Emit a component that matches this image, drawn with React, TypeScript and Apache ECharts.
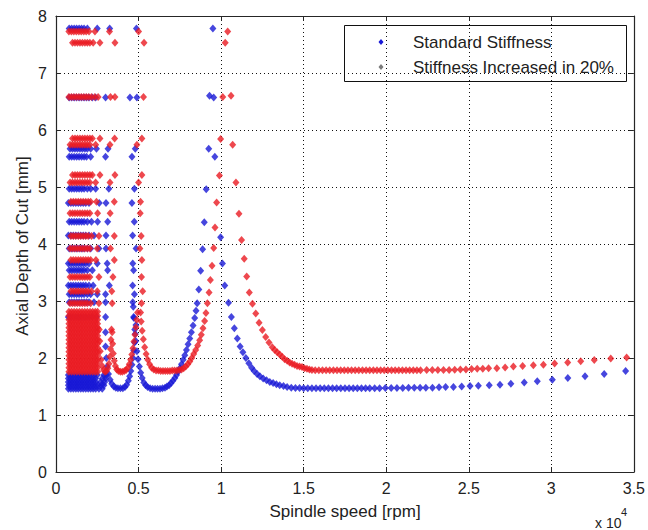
import React, { useEffect, useRef } from "react";
import * as echarts from "echarts";

const xTickValues = [0, 0.5, 1, 1.5, 2, 2.5, 3, 3.5];
const yTickValues = [0, 1, 2, 3, 4, 5, 6, 7, 8];
const seriesNames = ["Standard Stiffness", "Stiffness Increased in 20%"];
const xAxisTitle = "Spindle speed [rpm]";
const yAxisTitle = "Axial Depth of Cut [mm]";

type Row = [number, number[]];
type Pt = [number, number];

// ---- Standard stiffness (blue), x in 10^4 rpm, y in mm ----
const blueRows: Row[] = [
  [7.78, [0.08, 0.095, 0.11, 0.125, 0.14, 0.155, 0.17, 0.19, 0.25, 0.325, 0.487]],
  [6.57, [0.08, 0.095, 0.11, 0.125, 0.14, 0.155, 0.17, 0.185, 0.2, 0.22, 0.24, 0.3, 0.448, 0.49]],
  [5.67, [0.085, 0.1, 0.115, 0.13, 0.145, 0.16, 0.175, 0.19, 0.21, 0.245, 0.315, 0.48]],
  [5.53, [0.08, 0.095, 0.11, 0.125, 0.14, 0.155, 0.17, 0.185, 0.21, 0.3, 0.46]],
  [4.97, [0.08, 0.095, 0.11, 0.125, 0.14, 0.155, 0.17, 0.19, 0.21, 0.24, 0.32, 0.475]],
  [4.72, [0.075, 0.09, 0.105, 0.12, 0.135, 0.15, 0.165, 0.18, 0.2, 0.262, 0.303, 0.46]],
  [4.39, [0.08, 0.095, 0.11, 0.125, 0.14, 0.155, 0.17, 0.19, 0.215, 0.252, 0.313, 0.474]],
  [4.15, [0.075, 0.09, 0.105, 0.12, 0.135, 0.15, 0.165, 0.18, 0.2, 0.23, 0.303, 0.464]],
  [3.92, [0.08, 0.095, 0.11, 0.125, 0.14, 0.155, 0.17, 0.19, 0.21, 0.26, 0.303, 0.485]],
  [3.66, [0.075, 0.09, 0.105, 0.12, 0.135, 0.15, 0.165, 0.18, 0.2, 0.25, 0.31, 0.465]],
  [3.54, [0.08, 0.095, 0.11, 0.125, 0.14, 0.155, 0.17, 0.19, 0.22, 0.313, 0.47]],
  [3.27, [0.075, 0.09, 0.105, 0.12, 0.135, 0.15, 0.165, 0.18, 0.2, 0.225, 0.323, 0.464]],
  [3.12, [0.08, 0.095, 0.11, 0.125, 0.14, 0.155, 0.17, 0.19, 0.21, 0.25, 0.3, 0.475]],
  [2.98, [0.08, 0.095, 0.11, 0.125, 0.14, 0.155, 0.17, 0.185, 0.2, 0.23, 0.3, 0.465]],
  [2.72, [0.075, 0.09, 0.105, 0.12, 0.135, 0.15, 0.165, 0.18, 0.2, 0.22, 0.245, 0.3, 0.47]],
];
const blueLowRows: Row[] = [
  [1.46, [0.075, 0.09, 0.105, 0.12, 0.135, 0.15, 0.165, 0.18, 0.195, 0.21, 0.225, 0.24, 0.26, 0.28]],
  [1.52, [0.075, 0.09, 0.105, 0.12, 0.135, 0.15, 0.165, 0.18, 0.195, 0.21, 0.225, 0.24, 0.255, 0.275, 0.29]],
  [1.58, [0.075, 0.09, 0.105, 0.12, 0.135, 0.15, 0.165, 0.18, 0.195, 0.21, 0.225, 0.24, 0.27, 0.295]],
  [1.64, [0.075, 0.09, 0.105, 0.12, 0.135, 0.15, 0.165, 0.18, 0.195, 0.21, 0.225, 0.24, 0.28, 0.3]],
  [1.7, [0.075, 0.09, 0.105, 0.12, 0.135, 0.15, 0.165, 0.18, 0.195, 0.21, 0.23, 0.25, 0.29, 0.305]],
];
const blueLobes: Pt[] = [
  [0.3, 2.45], [0.3, 2.2], [0.305, 2.0], [0.31, 1.85], [0.318, 1.72], [0.328, 1.62], [0.338, 1.55],
  [0.35, 1.5], [0.362, 1.48], [0.375, 1.47], [0.39, 1.47], [0.405, 1.47], [0.418, 1.49], [0.428, 1.53],
  [0.438, 1.6], [0.446, 1.68], [0.453, 1.77], [0.46, 1.88], [0.466, 2.0], [0.471, 2.13], [0.476, 2.27],
  [0.48, 2.42], [0.484, 2.58],
  [0.468, 2.9], [0.472, 2.7], [0.477, 2.5], [0.483, 2.3], [0.49, 2.12], [0.497, 1.98], [0.505, 1.85],
  [0.513, 1.74], [0.522, 1.65], [0.532, 1.57], [0.543, 1.52], [0.555, 1.49], [0.57, 1.47], [0.585, 1.46],
  [0.6, 1.46], [0.615, 1.46], [0.63, 1.46], [0.645, 1.47], [0.66, 1.48], [0.672, 1.5], [0.685, 1.52],
  [0.697, 1.56], [0.708, 1.6], [0.72, 1.65], [0.73, 1.7], [0.74, 1.76], [0.75, 1.82], [0.76, 1.89],
  [0.77, 1.97], [0.78, 2.05], [0.79, 2.14], [0.8, 2.24], [0.81, 2.34], [0.82, 2.45], [0.83, 2.57],
  [0.84, 2.7], [0.848, 2.83], [0.855, 2.96], [0.865, 3.2], [0.876, 3.53], [0.888, 3.91], [0.898, 4.38],
  [0.91, 4.96], [0.925, 5.67], [0.93, 6.6], [0.95, 7.78],
];
const blueMain: Pt[] = [
  [0.955, 6.57], [0.962, 5.53], [0.997, 4.12], [1.008, 3.66], [1.022, 3.27], [1.045, 2.97], [1.062, 2.72],
  [1.08, 2.52], [1.098, 2.34], [1.115, 2.2], [1.132, 2.1], [1.15, 2.0], [1.168, 1.91], [1.185, 1.83],
  [1.2, 1.77], [1.218, 1.72], [1.235, 1.68], [1.255, 1.64], [1.275, 1.61], [1.295, 1.58], [1.315, 1.56],
  [1.335, 1.54], [1.355, 1.52], [1.378, 1.51], [1.4, 1.49], [1.425, 1.48],
  [1.45, 1.475], [1.475, 1.475], [1.5, 1.47], [1.525, 1.47], [1.55, 1.47], [1.575, 1.47], [1.6, 1.47],
  [1.625, 1.47], [1.65, 1.47], [1.675, 1.47], [1.7, 1.47], [1.725, 1.47], [1.75, 1.47], [1.775, 1.47],
  [1.8, 1.47], [1.825, 1.47], [1.85, 1.47], [1.875, 1.47], [1.9, 1.47], [1.93, 1.47], [1.96, 1.47],
  [1.995, 1.475], [2.03, 1.475], [2.065, 1.475], [2.1, 1.475], [2.135, 1.48], [2.17, 1.48], [2.205, 1.48],
  [2.24, 1.48], [2.28, 1.48], [2.32, 1.485], [2.36, 1.49], [2.407, 1.49], [2.457, 1.5], [2.508, 1.51],
  [2.558, 1.515], [2.624, 1.52], [2.689, 1.53], [2.755, 1.55], [2.836, 1.57], [2.915, 1.59], [3.006, 1.62],
  [3.1, 1.65], [3.204, 1.68], [3.32, 1.72], [3.45, 1.77],
];

// ---- Stiffness increased in 20% (red) ----
const redRows: Row[] = [
  [7.73, [0.078, 0.093, 0.108, 0.123, 0.138, 0.153, 0.168, 0.183, 0.2, 0.236, 0.324, 0.5]],
  [7.53, [0.1, 0.115, 0.13, 0.145, 0.16, 0.175, 0.19, 0.205, 0.225, 0.266, 0.357, 0.533]],
  [6.58, [0.078, 0.093, 0.108, 0.123, 0.138, 0.153, 0.168, 0.183, 0.198, 0.215, 0.235, 0.255, 0.33, 0.357, 0.53]],
  [5.85, [0.1, 0.115, 0.13, 0.145, 0.16, 0.175, 0.19, 0.205, 0.22, 0.266, 0.355, 0.52]],
  [5.74, [0.085, 0.1, 0.115, 0.13, 0.145, 0.16, 0.175, 0.19, 0.205, 0.24, 0.327, 0.49]],
  [5.21, [0.1, 0.115, 0.13, 0.145, 0.16, 0.175, 0.19, 0.205, 0.22, 0.266, 0.357, 0.52]],
  [5.08, [0.085, 0.1, 0.115, 0.13, 0.145, 0.16, 0.175, 0.19, 0.205, 0.24, 0.327, 0.5]],
  [4.74, [0.09, 0.105, 0.12, 0.135, 0.15, 0.165, 0.18, 0.195, 0.21, 0.245, 0.353, 0.512]],
  [4.54, [0.085, 0.1, 0.115, 0.13, 0.145, 0.16, 0.175, 0.19, 0.205, 0.252, 0.328, 0.51]],
  [4.14, [0.09, 0.105, 0.12, 0.135, 0.15, 0.165, 0.18, 0.195, 0.215, 0.26, 0.353, 0.516]],
  [3.92, [0.085, 0.1, 0.115, 0.13, 0.145, 0.16, 0.175, 0.19, 0.205, 0.25, 0.33, 0.508]],
  [3.72, [0.09, 0.105, 0.12, 0.135, 0.15, 0.165, 0.18, 0.195, 0.21, 0.242, 0.353, 0.52]],
  [3.42, [0.085, 0.1, 0.115, 0.13, 0.145, 0.16, 0.175, 0.19, 0.205, 0.26, 0.345, 0.518]],
  [3.17, [0.09, 0.105, 0.12, 0.135, 0.15, 0.165, 0.18, 0.195, 0.215, 0.25, 0.338, 0.525]],
  [2.96, [0.085, 0.1, 0.115, 0.13, 0.145, 0.16, 0.175, 0.19, 0.21, 0.26, 0.34, 0.518]],
];
const redBlockY = [1.76, 1.83, 1.9, 1.97, 2.04, 2.11, 2.18, 2.25, 2.32, 2.39, 2.46, 2.53, 2.6, 2.67, 2.74, 2.81];
const redBlockX = [0.078, 0.094, 0.11, 0.126, 0.142, 0.158, 0.174, 0.19, 0.206, 0.222, 0.238, 0.252];
const redLobes: Pt[] = [
  [0.262, 2.5], [0.265, 2.3], [0.268, 2.12], [0.273, 1.97], [0.28, 1.86], [0.288, 1.79], [0.297, 1.76],
  [0.306, 1.77], [0.314, 1.82], [0.321, 1.9], [0.326, 2.02], [0.33, 2.16], [0.333, 2.32], [0.336, 2.5],
  [0.34, 2.45], [0.343, 2.25], [0.347, 2.08], [0.353, 1.95], [0.36, 1.86], [0.368, 1.8], [0.378, 1.77],
  [0.39, 1.76], [0.402, 1.76], [0.414, 1.77], [0.425, 1.79], [0.435, 1.83], [0.444, 1.89], [0.452, 1.97],
  [0.459, 2.06], [0.466, 2.17], [0.472, 2.29], [0.478, 2.41], [0.484, 2.54], [0.489, 2.67], [0.494, 2.8],
  [0.512, 2.8], [0.516, 2.64], [0.522, 2.48], [0.529, 2.33], [0.537, 2.19], [0.546, 2.07], [0.556, 1.97],
  [0.567, 1.89], [0.579, 1.83], [0.592, 1.8], [0.606, 1.78], [0.62, 1.78], [0.634, 1.77], [0.648, 1.77],
  [0.662, 1.77], [0.676, 1.77], [0.69, 1.77], [0.704, 1.78], [0.718, 1.78], [0.732, 1.78], [0.746, 1.79],
  [0.76, 1.8], [0.773, 1.82], [0.786, 1.85], [0.798, 1.89], [0.81, 1.94], [0.822, 2.0], [0.834, 2.07],
  [0.846, 2.14], [0.858, 2.22], [0.87, 2.31], [0.88, 2.41], [0.89, 2.52], [0.9, 2.65], [0.908, 2.79],
  [0.917, 2.96], [0.927, 3.15], [0.935, 3.37], [0.945, 3.62], [0.955, 3.93], [0.963, 4.29], [0.973, 4.73],
  [0.99, 5.2], [0.997, 5.84], [1.01, 6.58], [1.025, 7.53],
];
const redMain: Pt[] = [
  [1.04, 7.73], [1.06, 6.6], [1.07, 5.74], [1.09, 5.08], [1.108, 4.53], [1.124, 4.07], [1.14, 3.74],
  [1.155, 3.43], [1.171, 3.15], [1.19, 2.95], [1.21, 2.78], [1.23, 2.62], [1.25, 2.49], [1.27, 2.37],
  [1.29, 2.27], [1.31, 2.19], [1.325, 2.14], [1.34, 2.1], [1.355, 2.06], [1.37, 2.02], [1.385, 1.98],
  [1.4, 1.95], [1.415, 1.92], [1.43, 1.9], [1.445, 1.88], [1.46, 1.86], [1.475, 1.85], [1.49, 1.84],
  [1.505, 1.82], [1.52, 1.81], [1.535, 1.8], [1.55, 1.79],
  [1.57, 1.785], [1.592, 1.785], [1.614, 1.785], [1.636, 1.785], [1.658, 1.785], [1.68, 1.785],
  [1.702, 1.785], [1.724, 1.785], [1.746, 1.785], [1.768, 1.785], [1.79, 1.785], [1.812, 1.785],
  [1.834, 1.785], [1.856, 1.785], [1.878, 1.785], [1.9, 1.785], [1.922, 1.785], [1.944, 1.785],
  [1.966, 1.785], [1.988, 1.785], [2.01, 1.785], [2.032, 1.785], [2.054, 1.785], [2.076, 1.785],
  [2.098, 1.785], [2.12, 1.785], [2.142, 1.785], [2.164, 1.785], [2.186, 1.785], [2.208, 1.785],
  [2.245, 1.79], [2.279, 1.79], [2.313, 1.79], [2.347, 1.79], [2.381, 1.79], [2.415, 1.795],
  [2.449, 1.8], [2.483, 1.8], [2.517, 1.805], [2.551, 1.81], [2.585, 1.81], [2.62, 1.82], [2.67, 1.82],
  [2.72, 1.835], [2.77, 1.85], [2.826, 1.86], [2.891, 1.875], [2.952, 1.88], [3.02, 1.905], [3.099, 1.92],
  [3.178, 1.945], [3.26, 1.965], [3.36, 1.99], [3.456, 2.01],
];

const BLUE = "#1818d6";
const RED = "#ea1a22";
const GRAY = "#7a7a7a";
const FONT = "'Liberation Sans', Arial, Helvetica, sans-serif";

function rowsToPoints(rows: Row[]): Pt[] {
  const out: Pt[] = [];
  rows.forEach(([y, xs]) => xs.forEach((x) => out.push([x, y])));
  return out;
}

function blockToPoints(xs: number[], ys: number[]): Pt[] {
  const out: Pt[] = [];
  ys.forEach((y) => xs.forEach((x) => out.push([x, y])));
  return out;
}

export default function App() {
  const ref = useRef<HTMLDivElement>(null);

  useEffect(() => {
    if (!ref.current) return;
    const chart = echarts.init(ref.current, undefined, { renderer: "svg" });

    const blueData = [...rowsToPoints(blueLowRows), ...rowsToPoints(blueRows), ...blueLobes, ...blueMain];
    const redData = [
      ...blockToPoints(redBlockX, redBlockY),
      ...rowsToPoints(redRows),
      ...redLobes,
      ...redMain,
    ];

    const xMin = xTickValues[0];
    const xMax = xTickValues[xTickValues.length - 1];
    const xInt = xTickValues[1] - xTickValues[0];
    const yMin = yTickValues[0];
    const yMax = yTickValues[yTickValues.length - 1];
    const yInt = yTickValues[1] - yTickValues[0];

    const axisColor = "#262626";
    const baseX = {
      type: "value" as const,
      min: xMin,
      max: xMax,
      interval: xInt,
      axisLine: { show: true, onZero: false, lineStyle: { color: axisColor, width: 1.2 } },
      axisTick: { show: true, inside: true, length: 5, lineStyle: { color: axisColor } },
    };
    const baseY = {
      type: "value" as const,
      min: yMin,
      max: yMax,
      interval: yInt,
      axisLine: { show: true, onZero: false, lineStyle: { color: axisColor, width: 1.2 } },
      axisTick: { show: true, inside: true, length: 5, lineStyle: { color: axisColor } },
    };

    const diamond = (cx: number, cy: number) => [
      [cx, cy - 3],
      [cx + 2.5, cy],
      [cx, cy + 3],
      [cx - 2.5, cy],
    ];

    const symbolSize = [7, 8];

    chart.setOption({
      animation: false,
      backgroundColor: "#ffffff",
      grid: { left: 56, right: 14, top: 16, bottom: 58, containLabel: false },
      xAxis: [
        {
          ...baseX,
          position: "bottom",
          axisLabel: { show: true, fontSize: 16, color: "#222", margin: 8, fontFamily: FONT },
          splitLine: { show: true, lineStyle: { color: "#111", width: 1, type: [1, 3] } },
        },
        {
          ...baseX,
          position: "top",
          axisLabel: { show: false },
          splitLine: { show: false },
        },
      ],
      yAxis: [
        {
          ...baseY,
          position: "left",
          axisLabel: { show: true, fontSize: 16, color: "#222", margin: 9, fontFamily: FONT },
          splitLine: { show: true, lineStyle: { color: "#111", width: 1, type: [1, 3] } },
        },
        {
          ...baseY,
          position: "right",
          axisLabel: { show: false },
          splitLine: { show: false },
        },
      ],
      series: [
        {
          name: seriesNames[0],
          type: "scatter",
          xAxisIndex: 0,
          yAxisIndex: 0,
          symbol: "diamond",
          symbolSize,
          itemStyle: { color: BLUE },
          data: blueData,
          z: 2,
        },
        {
          name: seriesNames[1],
          type: "scatter",
          xAxisIndex: 0,
          yAxisIndex: 0,
          symbol: "diamond",
          symbolSize,
          itemStyle: { color: RED },
          data: redData,
          z: 3,
        },
      ],
      graphic: [
        {
          type: "text",
          x: 22,
          y: 246,
          rotation: Math.PI / 2,
          style: {
            text: yAxisTitle,
            fontSize: 17,
            fontFamily: FONT,
            fill: "#222",
            textAlign: "center",
            textVerticalAlign: "middle",
          },
        },
        {
          type: "text",
          x: 345,
          y: 511,
          style: {
            text: xAxisTitle,
            fontSize: 17,
            fontFamily: FONT,
            fill: "#222",
            textAlign: "center",
            textVerticalAlign: "middle",
          },
        },
        {
          type: "text",
          x: 595,
          y: 523,
          style: { text: "x 10", fontSize: 14, fontFamily: FONT, fill: "#222", textAlign: "left", textVerticalAlign: "middle" },
        },
        {
          type: "text",
          x: 621,
          y: 512,
          style: { text: "4", fontSize: 11, fontFamily: FONT, fill: "#222", textAlign: "left", textVerticalAlign: "middle" },
        },
        {
          type: "group",
          z: 100,
          children: [
            {
              type: "rect",
              shape: { x: 344.5, y: 25.5, width: 282, height: 56 },
              style: { fill: "#ffffff", stroke: "#111", lineWidth: 1 },
            },
            { type: "polygon", shape: { points: diamond(381, 42) }, style: { fill: BLUE } },
            { type: "polygon", shape: { points: diamond(381, 67) }, style: { fill: GRAY } },
            {
              type: "text",
              x: 413,
              y: 42,
              style: { text: seriesNames[0], fontSize: 17, fontFamily: FONT, fill: "#222", textVerticalAlign: "middle" },
            },
            {
              type: "text",
              x: 413,
              y: 67,
              style: { text: seriesNames[1], fontSize: 17, fontFamily: FONT, fill: "#222", textVerticalAlign: "middle" },
            },
          ],
        },
      ],
    });

    return () => chart.dispose();
  }, []);

  return (
    <div
      ref={ref}
      style={{ position: "fixed", left: 0, top: 0, width: 648, height: 530, background: "#fff" }}
    />
  );
}
